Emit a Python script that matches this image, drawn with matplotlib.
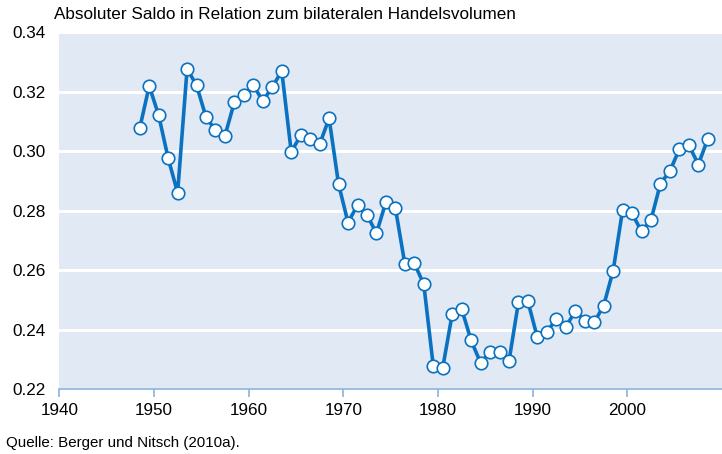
import matplotlib.pyplot as plt
import numpy as np

plt.rcParams['font.family'] = ['Liberation Sans', 'DejaVu Sans']

# Data: absolute balance relative to bilateral trade volume
years = np.arange(1948, 2009)
saldo = [
    0.3077, 0.3219, 0.3120, 0.2976, 0.2860, 0.3276, 0.3221, 0.3114, 0.3070, 0.3052,
    0.3165, 0.3188, 0.3221, 0.3168, 0.3215, 0.3269, 0.2997, 0.3053, 0.3041, 0.3023,
    0.3110, 0.2889, 0.2760, 0.2819, 0.2786, 0.2724, 0.2829, 0.2809, 0.2621, 0.2623,
    0.2553, 0.2279, 0.2272, 0.2452, 0.2470, 0.2364, 0.2289, 0.2325, 0.2326, 0.2295,
    0.2492, 0.2495, 0.2374, 0.2393, 0.2436, 0.2409, 0.2463, 0.2431, 0.2425, 0.2481,
    0.2598, 0.2802, 0.2791, 0.2730, 0.2769, 0.2891, 0.2933, 0.3007, 0.3020, 0.2955,
    0.3041,
]
xticks = [1940, 1950, 1960, 1970, 1980, 1990, 2000]
yticks = [0.22, 0.24, 0.26, 0.28, 0.30, 0.32, 0.34]

fig = plt.figure(figsize=(7.22, 4.54), dpi=100)
ax = fig.add_axes([0.0821, 0.1425, 0.9179, 0.787])
ax.set_facecolor('#E1E9F5')

# annual values drawn at mid-year
ax.plot(years + 0.5, saldo, color='#0A72C0', linewidth=2.6, marker='o',
        markersize=9, markerfacecolor='white', markeredgecolor='#0A72C0',
        markeredgewidth=1.2, zorder=3)

ax.set_xlim(1940, 2010)
ax.set_ylim(0.22, 0.34)
ax.set_xticks(xticks)
ax.set_yticks(yticks)
ax.set_yticklabels([f"{v:.2f}" for v in yticks])

ax.grid(axis='y', color='white', linewidth=2.2)
ax.set_axisbelow(True)
for side in ['top', 'right', 'left']:
    ax.spines[side].set_visible(False)
ax.spines['bottom'].set_color('#8DB0DD')
ax.spines['bottom'].set_linewidth(1.2)
ax.tick_params(axis='x', colors='#8DB0DD', length=6, width=1.2, labelcolor='black',
               labelsize=12.3, pad=4)
ax.tick_params(axis='y', length=0, labelsize=12.3, pad=10)

fig.text(0.075, 0.967, 'Absoluter Saldo in Relation zum bilateralen Handelsvolumen',
         fontsize=12.3, ha='left', va='center')
fig.text(0.009, 0.024, 'Quelle: Berger und Nitsch (2010a).', fontsize=10.9,
         ha='left', va='center')

plt.savefig('out.png', dpi=100)
